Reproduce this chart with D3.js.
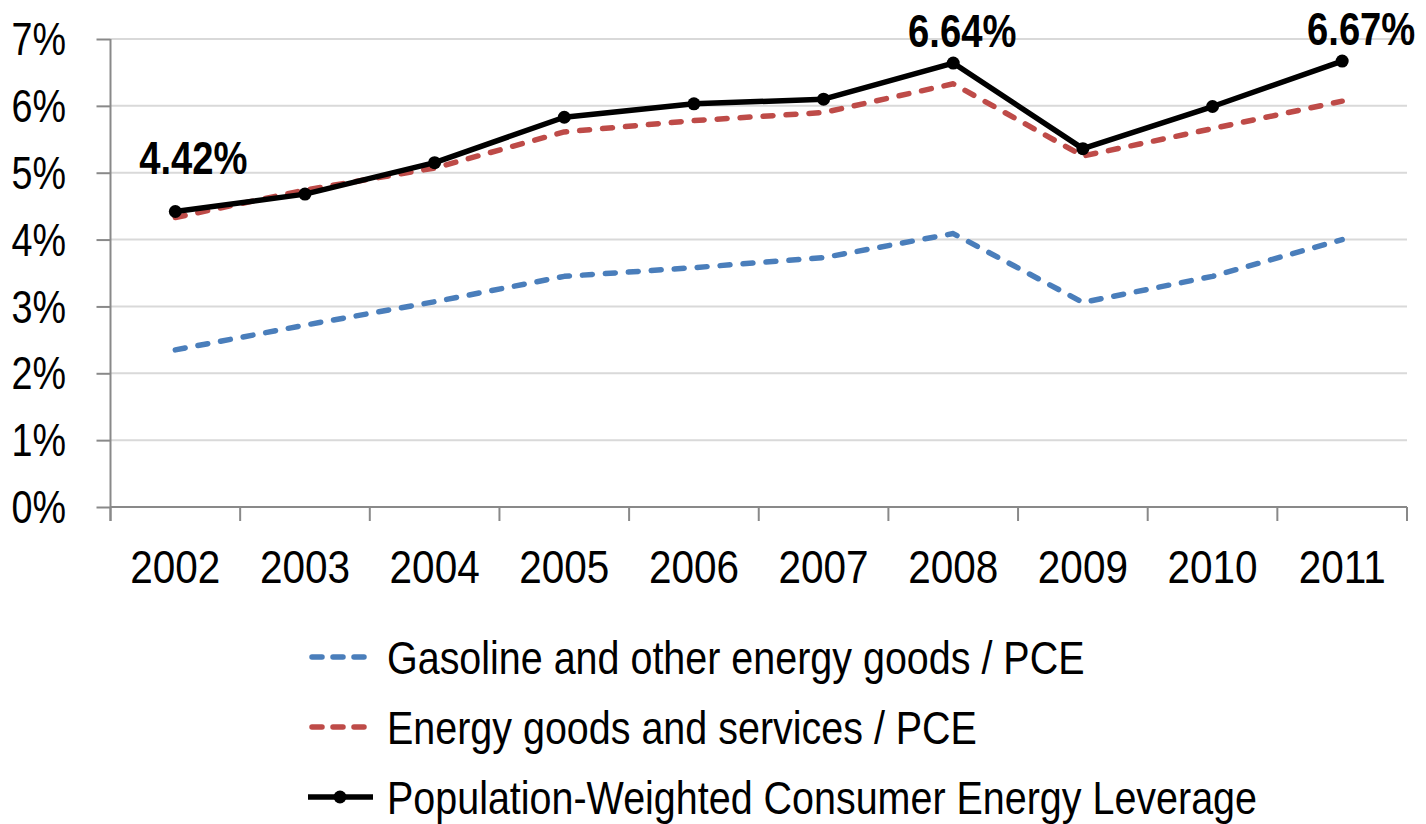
<!DOCTYPE html>
<html>
<head>
<meta charset="utf-8">
<script src="https://cdn.jsdelivr.net/npm/d3@7"></script>
<style>
  html, body { margin: 0; padding: 0; background: #fff; }
  svg { display: block; }
  text { font-family: "Liberation Sans Narrow", "Arial Narrow", "Liberation Sans", Arial, sans-serif; fill: #000; }
</style>
</head>
<body>
<svg id="chart" width="1426" height="824"></svg>
<script>
// Years on the category axis
const years = ["2002", "2003", "2004", "2005", "2006", "2007", "2008", "2009", "2010", "2011"];

// Shares of personal consumption expenditure (%)
const gasolineShare = [2.35, 2.72, 3.07, 3.45, 3.58, 3.73, 4.09, 3.06, 3.45, 4.00];
const energyShare   = [4.33, 4.74, 5.07, 5.61, 5.78, 5.90, 6.33, 5.25, 5.66, 6.07];
const leverage      = [4.42, 4.68, 5.15, 5.83, 6.03, 6.10, 6.64, 5.36, 5.99, 6.67];

// Value axis ticks (%)
const yTicks = [0, 1, 2, 3, 4, 5, 6, 7];

// Years whose leverage value is printed above the point
const labelledYears = ["2002", "2008", "2011"];

const seriesNames = [
  "Gasoline and other energy goods / PCE",
  "Energy goods and services / PCE",
  "Population-Weighted Consumer Energy Leverage"
];

const svg = d3.select("#chart");
const m = { left: 110.5, right: 1407, top: 39, bottom: 507 };

const x = d3.scaleBand().domain(years).range([m.left, m.right]).padding(0);
const y = d3.scaleLinear().domain([0, 7]).range([m.bottom, m.top]);
const cx = d => x(d) + x.bandwidth() / 2;

// Condensed text: the sans face is narrowed horizontally around its anchor
function narrowText(sel, sx) {
  return sel.attr("transform", function () {
    const t = d3.select(this);
    return `translate(${t.attr("data-x")},${t.attr("data-y")}) scale(${sx},1)`;
  });
}

// Horizontal gridlines
svg.append("g")
  .selectAll("line")
  .data(yTicks.filter(t => t > 0))
  .join("line")
  .attr("x1", m.left).attr("x2", m.right)
  .attr("y1", d => y(d)).attr("y2", d => y(d))
  .attr("stroke", "#d9d9d9").attr("stroke-width", 2);

// Value axis
const yAxis = svg.append("g")
  .attr("transform", `translate(${m.left},0)`)
  .call(d3.axisLeft(y).tickValues(yTicks).tickFormat("").tickSize(14));
yAxis.select(".domain").attr("stroke", "#898989").attr("stroke-width", 2)
  .attr("d", `M0,${m.top}V${m.bottom + 14}`);
yAxis.selectAll(".tick line").attr("stroke", "#898989").attr("stroke-width", 2);
yAxis.selectAll(".tick text").remove();

svg.append("g")
  .selectAll("text")
  .data(yTicks)
  .join("text")
  .attr("data-x", 66)
  .attr("data-y", d => y(d))
  .attr("text-anchor", "end")
  .attr("dy", "0.35em")
  .style("font-size", "46px")
  .text(d => d + "%")
  .call(narrowText, 0.82);

// Category axis with tick marks on band boundaries
const xAxis = svg.append("g")
  .attr("transform", `translate(0,${m.bottom})`);
xAxis.append("line")
  .attr("x1", m.left).attr("x2", m.right)
  .attr("stroke", "#898989").attr("stroke-width", 2);
const bounds = years.map(d => x(d)).concat([m.right]);
xAxis.selectAll("line.tick")
  .data(bounds)
  .join("line")
  .attr("class", "tick")
  .attr("x1", d => d).attr("x2", d => d)
  .attr("y1", 0).attr("y2", 14)
  .attr("stroke", "#898989").attr("stroke-width", 2);
xAxis.selectAll("text")
  .data(years)
  .join("text")
  .attr("data-x", d => cx(d))
  .attr("data-y", 76)
  .attr("text-anchor", "middle")
  .style("font-size", "46px")
  .text(d => d)
  .call(narrowText, 0.88);

const line = d3.line().x((d, i) => cx(years[i])).y(d => y(d));

const styles = [
  { data: gasolineShare, color: "#4a7ebb", dash: "10,13", width: 5.5 },
  { data: energyShare,   color: "#be4b48", dash: "10,13", width: 5.5 },
  { data: leverage,      color: "#000000", dash: null,    width: 5.5 }
];

styles.forEach(s => {
  svg.append("path")
    .datum(s.data)
    .attr("d", line)
    .attr("fill", "none")
    .attr("stroke", s.color)
    .attr("stroke-width", s.width)
    .attr("stroke-linecap", s.dash ? "round" : "butt")
    .attr("stroke-linejoin", "round")
    .attr("stroke-dasharray", s.dash);
});

// Markers on the leverage series
svg.append("g")
  .selectAll("circle")
  .data(leverage)
  .join("circle")
  .attr("cx", (d, i) => cx(years[i]))
  .attr("cy", d => y(d))
  .attr("r", 6.5)
  .attr("fill", "#000");

// Value labels
const labelShift = { "2002": [18, -37], "2008": [9, -16], "2011": [19, -16] };
svg.append("g")
  .selectAll("text")
  .data(labelledYears)
  .join("text")
  .attr("data-x", d => cx(d) + labelShift[d][0])
  .attr("data-y", d => y(leverage[years.indexOf(d)]) + labelShift[d][1])
  .attr("text-anchor", "middle")
  .style("font-size", "46px")
  .style("font-weight", "bold")
  .text(d => leverage[years.indexOf(d)].toFixed(2) + "%")
  .call(narrowText, 0.83);

// Legend
const legend = svg.append("g");
const rowY = [657, 727, 797];
styles.forEach((s, i) => {
  const g = legend.append("g").attr("transform", `translate(0,${rowY[i]})`);
  g.append("line")
    .attr("x1", s.dash ? 312 : 308).attr("x2", s.dash ? 370 : 373)
    .attr("y1", 0).attr("y2", 0)
    .attr("stroke", s.color).attr("stroke-width", s.width)
    .attr("stroke-linecap", s.dash ? "round" : "butt")
    .attr("stroke-dasharray", s.dash ? "10,11" : null);
  if (!s.dash) {
    g.append("circle").attr("cx", 340).attr("cy", 0).attr("r", 6.5).attr("fill", "#000");
  }
  g.append("text")
    .attr("data-x", 387)
    .attr("data-y", 0)
    .attr("dy", "0.36em")
    .style("font-size", "46px")
    .text(seriesNames[i])
    .call(narrowText, 0.858);
});
</script>
</body>
</html>
